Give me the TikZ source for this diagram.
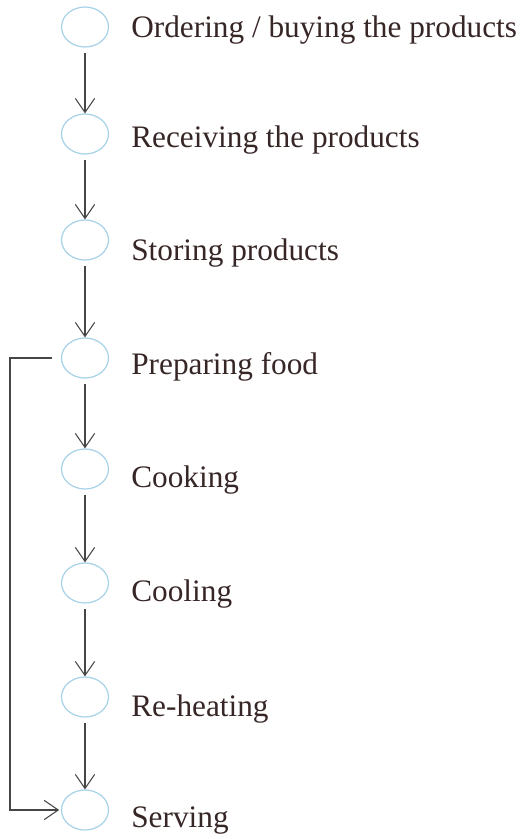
\documentclass[tikz,border=0pt]{standalone}
\usepackage{fontspec}
\setmainfont{Liberation Serif}
\usepackage{tikz}
\usetikzlibrary{positioning}
\usetikzlibrary{%
  shapes.geometric,%
  arrows.meta%
}
\definecolor{stagecol}{RGB}{168,210,232}
\definecolor{flowcol}{RGB}{70,70,70}
\definecolor{textcol}{RGB}{55,38,38}

\begin{document}
\begin{tikzpicture}[x=0.02cm, y=-0.02cm,
  stage/.style={ellipse, draw=stagecol, line width=0.7pt, minimum width=0.94cm, minimum height=0.8cm, inner sep=0pt},
  stagetext/.style={anchor=west, inner sep=0pt, text=textcol, font=\fontsize{17.8}{20}\selectfont},
  flow/.style={draw=flowcol, line width=0.6pt, -{Straight Barb[length=8pt, width=11pt]}, shorten <=3pt}]
\useasboundingbox (0,0) rectangle (525,839);

\node[stage] (E1) at (85,27) {};
\node[stage] (E2) at (85,134) {};
\node[stage] (E3) at (85,240) {};
\node[stage] (E4) at (85,358) {};
\node[stage] (E5) at (85,469) {};
\node[stage] (E6) at (85,583) {};
\node[stage] (E7) at (85,697) {};
\node[stage] (E8) at (85,810) {};

\node[stagetext] (T1) at (131,30) {Ordering / buying the products};
\node[stagetext] (T2) at (131,140) {Receiving the products};
\node[stagetext] (T3) at (131,253) {Storing products};
\node[stagetext] (T4) at (131,367) {Preparing food};
\node[stagetext] (T5) at (131,480) {Cooking};
\node[stagetext] (T6) at (131,594) {Cooling};
\node[stagetext] (T7) at (131,709) {Re-heating};
\node[stagetext] (T8) at (131,821) {Serving};

\coordinate (back) at (10,0);

\draw
	(E1) edge[flow] (E2)
	(E2) edge[flow] (E3)
	(E3) edge[flow] (E4)
	(E4) edge[flow] (E5)
	(E5) edge[flow] (E6)
	(E6) edge[flow] (E7)
	(E7) edge[flow] (E8)
;
\draw[flow, shorten <=5pt, shorten >=1pt] (E4.west) -- (back |- E4) |- (E8.west);
\end{tikzpicture}
\end{document}
